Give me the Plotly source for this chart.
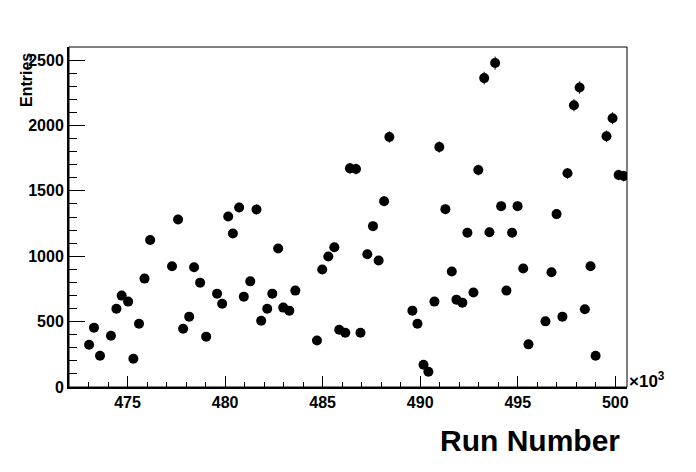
import numpy as np
import plotly.graph_objects as go

# Run number (x 10^3) and entries
run_k = [473.03, 473.28, 473.59, 474.15, 474.43, 474.70, 475.03, 475.30, 475.59, 475.87,
         476.16, 477.28, 477.59, 477.85, 478.16, 478.41, 478.72, 479.03, 479.59, 479.85,
         480.16, 480.40, 480.72, 480.96, 481.29, 481.61, 481.85, 482.16, 482.42, 482.72,
         482.98, 483.29, 483.60, 484.71, 484.98, 485.29, 485.60, 485.85, 486.16, 486.40,
         486.71, 486.94, 487.29, 487.58, 487.87, 488.15, 488.42, 489.60, 489.86, 490.17,
         490.42, 490.73, 490.98, 491.29, 491.62, 491.86, 492.16, 492.42, 492.73, 492.98,
         493.28, 493.55, 493.84, 494.15, 494.42, 494.71, 494.99, 495.28, 495.55, 496.42,
         496.73, 496.99, 497.29, 497.55, 497.88, 498.17, 498.44, 498.73, 498.99, 499.55,
         499.86, 500.17, 500.43]
entries = [323, 454, 239, 392, 599, 699, 653, 216, 484, 829,
           1124, 923, 1281, 446, 538, 916, 798, 385, 714, 637,
           1304, 1174, 1373, 691, 808, 1358, 507, 599, 714, 1059,
           607, 584, 737, 356, 898, 998, 1069, 438, 415, 1672,
           1667, 415, 1015, 1230, 967, 1421, 1912, 584, 484, 170,
           116, 653, 1835, 1360, 883, 668, 645, 1179, 722, 1659,
           2362, 1184, 2477, 1383, 737, 1179, 1383, 906, 326, 502,
           877, 1322, 538, 1634, 2155, 2290, 594, 923, 239, 1917,
           2055, 1621, 1613]
errors = np.sqrt(np.array(entries, dtype=float))

x_ticks = [475, 480, 485, 490, 495, 500]
y_ticks = [0, 500, 1000, 1500, 2000, 2500]

FONT = "Liberation Sans"
tickfont = dict(family=FONT, size=16, color="black", weight="bold")

# page body has an 8px default margin; compensate so the frame sits at 69..627 x 47..387
OFF = 8
PL, PT, PW, PH = 69, 47, 558, 340

fig = go.Figure()
fig.add_trace(go.Scatter(
    x=run_k, y=entries, mode="markers",
    marker=dict(color="black", size=10, symbol="circle", line=dict(width=0)),
    error_y=dict(type="data", array=errors, visible=True, color="black",
                 thickness=1, width=0),
    showlegend=False,
))

fig.update_layout(
    width=696, height=472,
    margin=dict(l=PL - OFF, r=696 - PL - PW + OFF, t=PT - OFF, b=472 - PT - PH + OFF),
    paper_bgcolor="white", plot_bgcolor="white",
    xaxis=dict(range=[472.0, 500.6], tickvals=x_ticks, ticktext=[str(v) for v in x_ticks],
               ticks="inside", ticklen=11, tickwidth=1, tickcolor="black",
               minor=dict(ticks="inside", ticklen=5, dtick=1, tick0=0, tickcolor="black"),
               showgrid=False, zeroline=False, showline=True, linecolor="black",
               linewidth=2, mirror=False, tickfont=tickfont),
    yaxis=dict(range=[0, 2600], tickvals=y_ticks, ticktext=[str(v) for v in y_ticks],
               ticks="inside", ticklen=16, tickwidth=1, tickcolor="black",
               minor=dict(ticks="inside", ticklen=8, dtick=100, tick0=0, tickcolor="black"),
               showgrid=False, zeroline=False, showline=True, linecolor="black",
               linewidth=2, mirror=False, tickfont=tickfont),
    shapes=[dict(type="rect", xref="paper", yref="paper", x0=0, y0=0, x1=1, y1=1,
                 line=dict(color="black", width=1), layer="above")],
    annotations=[
        dict(text="Entries", xref="paper", yref="paper", x=(26 - PL) / PW, y=1 - (80 - PT) / PH,
             textangle=-90, showarrow=False, xanchor="center", yanchor="middle",
             font=dict(family=FONT, size=16, color="black", weight="bold")),
        dict(text="Run Number", xref="paper", yref="paper", x=(622 - PL) / PW, y=-(441 - PT - PH) / PH,
             showarrow=False, xanchor="right", yanchor="middle",
             font=dict(family=FONT, size=30, color="black", weight="bold")),
        dict(text="×10<sup>3</sup>", xref="paper", yref="paper", x=(627 - PL) / PW, y=-(380 - PT - PH) / PH,
             showarrow=False, xanchor="left", yanchor="middle",
             font=dict(family=FONT, size=17, color="black", weight="bold")),
    ],
)

fig.write_html("out.html")
